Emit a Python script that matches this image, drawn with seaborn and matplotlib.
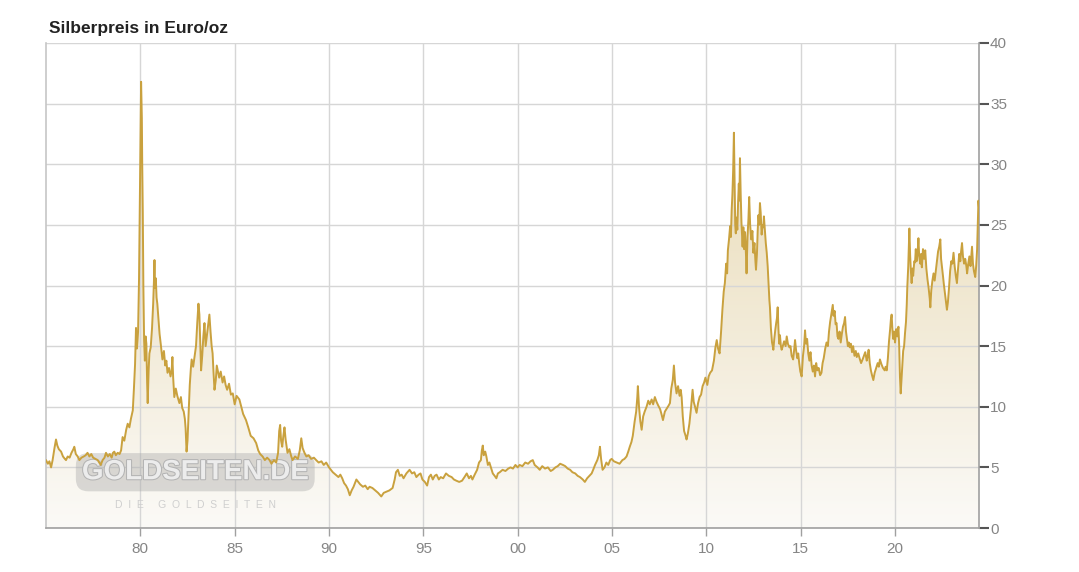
import numpy as np
import pandas as pd
import matplotlib
matplotlib.use("Agg")
import matplotlib.pyplot as plt
import matplotlib.patheffects as pe
import seaborn as sns
from matplotlib.colors import LinearSegmentedColormap
from matplotlib.patches import PathPatch

# Silberpreis in Euro/oz (Jahr als Dezimalzahl)
years = [
    1975.00, 1975.10, 1975.18, 1975.27, 1975.35, 1975.45, 1975.53, 1975.60, 1975.68, 1975.80,
    1975.90, 1976.00, 1976.06, 1976.15, 1976.25, 1976.35, 1976.45, 1976.50, 1976.58, 1976.68,
    1976.77, 1976.88, 1977.00, 1977.10, 1977.20, 1977.30, 1977.40, 1977.50, 1977.62, 1977.74,
    1977.82, 1977.90, 1978.00, 1978.10, 1978.18, 1978.28, 1978.38, 1978.48, 1978.55, 1978.62,
    1978.70, 1978.80, 1978.90, 1978.98, 1979.06, 1979.15, 1979.25, 1979.33, 1979.42, 1979.50,
    1979.60, 1979.66, 1979.72, 1979.77, 1979.82, 1979.88, 1979.93, 1979.98, 1980.02, 1980.04,
    1980.06, 1980.08, 1980.10, 1980.13, 1980.16, 1980.20, 1980.24, 1980.28, 1980.32, 1980.36,
    1980.39, 1980.44, 1980.48, 1980.55, 1980.62, 1980.68, 1980.72, 1980.75, 1980.78, 1980.82,
    1980.86, 1980.90, 1980.96, 1981.02, 1981.08, 1981.17, 1981.25, 1981.32, 1981.38, 1981.44,
    1981.52, 1981.60, 1981.66, 1981.70, 1981.74, 1981.80, 1981.88, 1981.96, 1982.07, 1982.15,
    1982.22, 1982.30, 1982.36, 1982.40, 1982.45, 1982.50, 1982.56, 1982.62, 1982.68, 1982.72,
    1982.80, 1982.87, 1982.95, 1983.02, 1983.08, 1983.13, 1983.18, 1983.22, 1983.28, 1983.34,
    1983.40, 1983.46, 1983.52, 1983.58, 1983.62, 1983.66, 1983.72, 1983.78, 1983.83, 1983.88,
    1983.93, 1984.00, 1984.05, 1984.10, 1984.18, 1984.26, 1984.36, 1984.44, 1984.52, 1984.60,
    1984.70, 1984.80, 1984.90, 1985.00, 1985.10, 1985.25, 1985.35, 1985.45, 1985.60, 1985.72,
    1985.85, 1986.00, 1986.14, 1986.25, 1986.35, 1986.48, 1986.60, 1986.72, 1986.85, 1986.95,
    1987.08, 1987.20, 1987.30, 1987.36, 1987.41, 1987.46, 1987.52, 1987.58, 1987.64, 1987.70,
    1987.80, 1987.90, 1988.00, 1988.07, 1988.20, 1988.35, 1988.45, 1988.53, 1988.60, 1988.70,
    1988.80, 1988.92, 1989.05, 1989.20, 1989.32, 1989.45, 1989.60, 1989.72, 1989.85, 1990.00,
    1990.10, 1990.20, 1990.35, 1990.50, 1990.60, 1990.70, 1990.80, 1990.90, 1991.00, 1991.10,
    1991.20, 1991.30, 1991.45, 1991.55, 1991.65, 1991.80, 1991.92, 1992.05, 1992.15, 1992.30,
    1992.45, 1992.60, 1992.77, 1992.90, 1993.05, 1993.20, 1993.37, 1993.48, 1993.55, 1993.65,
    1993.75, 1993.85, 1993.95, 1994.10, 1994.27, 1994.40, 1994.52, 1994.63, 1994.75, 1994.85,
    1994.95, 1995.08, 1995.20, 1995.30, 1995.40, 1995.50, 1995.60, 1995.70, 1995.82, 1995.92,
    1996.05, 1996.20, 1996.35, 1996.50, 1996.62, 1996.75, 1996.90, 1997.05, 1997.18, 1997.30,
    1997.42, 1997.52, 1997.60, 1997.72, 1997.85, 1997.95, 1998.05, 1998.10, 1998.15, 1998.20,
    1998.28, 1998.34, 1998.42, 1998.50, 1998.60, 1998.68, 1998.78, 1998.87, 1998.95, 1999.05,
    1999.20, 1999.35, 1999.50, 1999.62, 1999.75, 1999.88, 2000.00, 2000.10, 2000.25, 2000.40,
    2000.55, 2000.68, 2000.80, 2000.90, 2001.05, 2001.17, 2001.30, 2001.45, 2001.60, 2001.75,
    2001.86, 2002.00, 2002.12, 2002.25, 2002.40, 2002.52, 2002.65, 2002.78, 2002.90, 2003.05,
    2003.18, 2003.30, 2003.45, 2003.56, 2003.68, 2003.80, 2003.92, 2004.00, 2004.10, 2004.22,
    2004.30, 2004.36, 2004.42, 2004.50, 2004.60, 2004.70, 2004.80, 2004.90, 2004.98, 2005.10,
    2005.25, 2005.40, 2005.55, 2005.66, 2005.77, 2005.86, 2005.94, 2006.03, 2006.10, 2006.20,
    2006.28, 2006.34, 2006.37, 2006.43, 2006.50, 2006.57, 2006.65, 2006.73, 2006.83, 2006.92,
    2007.00, 2007.10, 2007.18, 2007.27, 2007.36, 2007.45, 2007.55, 2007.62, 2007.70, 2007.80,
    2007.92, 2008.00, 2008.07, 2008.14, 2008.22, 2008.28, 2008.34, 2008.42, 2008.50, 2008.58,
    2008.64, 2008.69, 2008.75, 2008.82, 2008.90, 2008.95, 2009.02, 2009.10, 2009.18, 2009.27,
    2009.33, 2009.40, 2009.48, 2009.56, 2009.64, 2009.72, 2009.80, 2009.88, 2009.95, 2010.05,
    2010.12, 2010.20, 2010.30, 2010.40, 2010.48, 2010.55, 2010.62, 2010.70, 2010.78, 2010.85,
    2010.92, 2010.98, 2011.05, 2011.10, 2011.14, 2011.20, 2011.26, 2011.30, 2011.34, 2011.38,
    2011.42, 2011.46, 2011.50, 2011.53, 2011.56, 2011.60, 2011.64, 2011.68, 2011.72, 2011.75,
    2011.78, 2011.82, 2011.86, 2011.90, 2011.92, 2011.96, 2012.00, 2012.05, 2012.10, 2012.13,
    2012.18, 2012.23, 2012.27, 2012.32, 2012.38, 2012.44, 2012.49, 2012.55, 2012.60, 2012.63,
    2012.68, 2012.72, 2012.76, 2012.80, 2012.84, 2012.88, 2012.93, 2012.98, 2013.02, 2013.05,
    2013.10, 2013.15, 2013.20, 2013.25, 2013.30, 2013.34, 2013.37, 2013.42, 2013.48, 2013.52,
    2013.55, 2013.60, 2013.65, 2013.70, 2013.74, 2013.78, 2013.82, 2013.86, 2013.90, 2013.95,
    2013.99, 2014.05, 2014.12, 2014.20, 2014.26, 2014.32, 2014.40, 2014.46, 2014.52, 2014.60,
    2014.66, 2014.70, 2014.76, 2014.82, 2014.87, 2014.92, 2014.98, 2015.05, 2015.12, 2015.18,
    2015.23, 2015.28, 2015.34, 2015.40, 2015.46, 2015.52, 2015.58, 2015.64, 2015.70, 2015.76,
    2015.82, 2015.88, 2015.95, 2016.03, 2016.10, 2016.16, 2016.22, 2016.30, 2016.37, 2016.44,
    2016.50, 2016.56, 2016.62, 2016.66, 2016.70, 2016.74, 2016.80, 2016.85, 2016.90, 2016.95,
    2017.00, 2017.06, 2017.12, 2017.18, 2017.24, 2017.30, 2017.35, 2017.40, 2017.45, 2017.50,
    2017.55, 2017.60, 2017.66, 2017.72, 2017.78, 2017.85, 2017.92, 2017.97, 2018.05, 2018.12,
    2018.20, 2018.28, 2018.35, 2018.42, 2018.50, 2018.55, 2018.60, 2018.66, 2018.72, 2018.78,
    2018.85, 2018.92, 2019.00, 2019.08, 2019.14, 2019.20, 2019.28, 2019.36, 2019.45, 2019.50,
    2019.56, 2019.62, 2019.68, 2019.74, 2019.78, 2019.82, 2019.86, 2019.90, 2019.95, 2020.00,
    2020.06, 2020.12, 2020.18, 2020.22, 2020.26, 2020.30, 2020.34, 2020.38, 2020.43, 2020.48,
    2020.53, 2020.58, 2020.62, 2020.65, 2020.70, 2020.74, 2020.76, 2020.80, 2020.84, 2020.88,
    2020.92, 2020.96, 2021.02, 2021.06, 2021.10, 2021.14, 2021.20, 2021.24, 2021.28, 2021.34,
    2021.38, 2021.42, 2021.48, 2021.54, 2021.60, 2021.66, 2021.72, 2021.78, 2021.84, 2021.87,
    2021.92, 2021.98, 2022.04, 2022.10, 2022.16, 2022.22, 2022.28, 2022.34, 2022.40, 2022.44,
    2022.50, 2022.54, 2022.58, 2022.64, 2022.70, 2022.75, 2022.80, 2022.86, 2022.92, 2022.98,
    2023.04, 2023.10, 2023.16, 2023.22, 2023.28, 2023.34, 2023.40, 2023.46, 2023.50, 2023.55,
    2023.60, 2023.66, 2023.72, 2023.78, 2023.82, 2023.88, 2023.94, 2024.00, 2024.04, 2024.08,
    2024.13, 2024.18, 2024.25, 2024.30, 2024.35, 2024.39, 2024.42, 2024.45,
]
price = [
    5.6, 5.3, 5.5, 5.0, 5.6, 6.6, 7.3, 6.8, 6.5, 6.3,
    5.9, 5.7, 5.6, 5.9, 5.8, 6.2, 6.5, 6.7, 6.1, 5.9,
    5.6, 5.8, 5.9, 6.0, 6.2, 5.9, 6.1, 5.8, 5.7, 5.6,
    5.4, 5.2, 5.6, 5.8, 6.2, 5.9, 6.1, 5.8, 6.2, 6.3,
    6.0, 6.2, 6.1, 6.4, 7.5, 7.2, 8.1, 8.6, 8.3, 9.0,
    9.7, 11.5, 13.5, 16.5, 14.8, 16.2, 20.5, 28.0, 34.5, 36.8,
    35.2, 33.8, 30.0, 26.0, 20.0, 15.5, 13.8, 15.8, 15.2, 12.0,
    10.3, 13.0, 14.4, 14.9, 16.5, 18.5, 20.3, 22.1, 19.8, 20.6,
    19.0, 18.5, 17.2, 16.0, 15.2, 13.9, 14.6, 13.4, 13.8, 12.8,
    13.2, 12.5, 13.0, 14.1, 12.4, 10.8, 11.5, 10.9, 10.3, 10.8,
    9.9, 9.6, 9.0, 8.2, 6.3, 7.2, 9.5, 11.8, 13.2, 13.9,
    13.3, 14.1, 15.0, 17.0, 18.5, 17.6, 15.0, 13.0, 14.2, 15.8,
    16.9, 15.0, 15.8, 16.6, 17.2, 17.6, 16.2, 15.0, 14.4, 12.8,
    11.4, 12.2, 13.4, 13.0, 12.4, 12.9, 12.0, 12.5, 11.8, 11.4,
    11.9, 11.0, 11.1, 10.2, 10.9, 10.6, 10.0, 9.4, 8.9, 8.3,
    7.6, 7.4, 7.0, 6.4, 6.1, 5.9, 5.6, 5.8, 5.6, 5.3,
    5.6, 5.4, 6.2, 8.0, 8.5, 7.2, 6.7, 7.6, 8.3, 7.3,
    6.2, 6.5, 5.9, 5.6, 5.9, 5.7, 6.4, 7.4, 6.6, 6.2,
    5.9, 6.0, 5.7, 5.8, 5.6, 5.4, 5.5, 5.2, 5.4, 5.0,
    4.8, 4.6, 4.4, 4.2, 4.4, 4.1, 3.7, 3.5, 3.2, 2.7,
    3.1, 3.4, 4.0, 3.8, 3.6, 3.4, 3.5, 3.2, 3.4, 3.3,
    3.1, 2.9, 2.6, 2.9, 3.0, 3.1, 3.3, 4.0, 4.6, 4.8,
    4.3, 4.4, 4.1, 4.5, 4.8, 4.5, 4.6, 4.2, 4.4, 4.5,
    4.0, 3.8, 3.5, 4.2, 4.4, 4.0, 4.3, 4.4, 4.0, 4.2,
    4.1, 4.5, 4.3, 4.2, 4.0, 3.9, 3.8, 3.9, 4.2, 4.5,
    4.1, 4.3, 4.0, 4.4, 4.8, 5.4, 5.6, 6.4, 6.8, 6.0,
    6.3, 5.9, 5.2, 5.4, 4.9, 4.5, 4.3, 4.1, 4.5, 4.6,
    4.8, 4.7, 4.9, 5.0, 4.9, 5.2, 5.0, 5.2, 5.1, 5.4,
    5.3, 5.5, 5.6, 5.2, 5.0, 4.8, 5.1, 4.9, 5.0, 4.7,
    4.8, 5.0, 5.1, 5.3, 5.2, 5.1, 4.9, 4.8, 4.6, 4.5,
    4.3, 4.2, 4.0, 3.8, 4.1, 4.3, 4.5, 4.8, 5.2, 5.6,
    6.0, 6.7, 5.7, 4.8, 5.0, 5.4, 5.2, 5.6, 5.7, 5.5,
    5.4, 5.3, 5.6, 5.7, 5.9, 6.3, 6.7, 7.1, 7.6, 8.8,
    9.6, 10.8, 11.7, 10.0, 8.8, 8.1, 9.2, 9.6, 10.0, 10.5,
    10.2, 10.6, 10.2, 10.8, 10.4, 10.1, 9.8, 9.4, 8.9, 9.6,
    9.9, 10.1, 10.3, 11.5, 12.2, 13.4, 12.0, 11.1, 11.7, 10.9,
    11.4, 10.8, 9.2, 8.0, 7.6, 7.3, 7.8, 8.6, 9.8, 11.4,
    10.4, 10.0, 9.5, 10.3, 10.8, 11.0, 11.7, 12.0, 12.4, 11.8,
    12.5, 12.8, 13.0, 13.8, 14.9, 15.5, 14.8, 14.4, 16.2, 18.0,
    19.5, 20.2, 21.8, 21.0, 22.9, 23.8, 24.9, 24.0, 26.2, 27.5,
    29.5, 32.6, 28.0, 25.0, 24.3, 25.6, 24.6, 26.8, 28.4, 27.0,
    30.5, 27.5, 25.2, 23.8, 23.2, 24.8, 23.0, 24.4, 22.5, 21.0,
    24.0, 25.5, 27.3, 25.0, 23.8, 24.5, 22.7, 23.5, 22.0, 21.3,
    22.6, 24.5, 25.8, 25.0, 26.8, 26.0, 24.2, 25.0, 24.8, 25.7,
    24.6, 23.5, 22.7, 21.6, 20.0, 18.8, 18.2, 16.5, 15.3, 15.0,
    14.7, 15.6, 16.3, 16.9, 17.3, 18.2, 16.4, 15.2, 15.9, 15.0,
    14.7, 15.0, 15.4, 15.0, 15.8, 15.2, 14.9, 15.0, 14.2, 13.9,
    14.8, 15.5, 14.6, 14.0, 14.4, 13.6, 12.9, 12.5, 14.2, 15.0,
    16.3, 15.2, 15.6, 14.4, 13.8, 14.5, 13.4, 12.9, 13.4, 12.5,
    13.6, 13.0, 13.2, 12.6, 12.8, 13.6, 14.0, 14.8, 15.3, 15.0,
    16.2, 17.0, 17.6, 18.0, 18.4, 17.5, 17.9, 16.8, 16.9, 15.8,
    15.6, 16.2, 15.3, 16.0, 16.6, 16.9, 17.4, 16.2, 15.6, 15.0,
    15.3, 14.9, 15.2, 14.5, 15.0, 14.2, 14.6, 14.1, 14.4, 14.0,
    13.6, 13.9, 14.2, 14.5, 13.8, 14.2, 14.7, 13.6, 13.0, 12.6,
    12.2, 12.8, 13.2, 13.6, 13.3, 13.9, 13.5, 13.2, 13.0, 13.3,
    13.0, 14.0, 15.4, 16.4, 17.2, 17.6, 16.4, 15.6, 16.2, 15.3,
    16.4, 15.8, 16.6, 15.0, 12.5, 11.1, 12.2, 13.4, 14.6, 15.0,
    16.1, 17.0, 18.4, 19.9, 21.6, 23.5, 24.7, 22.5, 21.2, 20.2,
    21.4, 20.8, 22.0, 21.9, 23.0, 22.0, 22.8, 23.9, 22.4, 21.8,
    22.6, 21.5, 23.0, 22.2, 22.9, 21.4, 20.5, 19.8, 18.9, 18.2,
    19.6, 20.4, 21.0, 20.4, 21.2, 22.0, 22.8, 23.2, 23.8, 22.2,
    21.4, 20.8, 20.2, 19.4, 18.6, 18.0, 18.6, 19.8, 21.2, 22.0,
    21.8, 22.7, 21.6, 20.8, 20.2, 21.4, 22.6, 22.0, 22.8, 23.5,
    22.4, 21.8, 22.2, 21.6, 21.0, 21.8, 22.4, 21.6, 22.4, 23.2,
    21.8, 21.2, 20.7, 21.6, 23.0, 25.4, 27.0, 26.4,
]

x_ticks = [1980, 1985, 1990, 1995, 2000, 2005, 2010, 2015, 2020]
x_tick_labels = ["80", "85", "90", "95", "00", "05", "10", "15", "20"]
y_ticks = [0, 5, 10, 15, 20, 25, 30, 35, 40]

LINE_COLOR = "#c9a13e"
W, H = 1079, 572


def main():
    assert len(years) == len(price), (len(years), len(price))
    df = pd.DataFrame({"Jahr": years, "Preis": price})

    sns.set_theme(style="white")
    plt.rcParams["font.family"] = ["Liberation Sans", "DejaVu Sans"]

    fig = plt.figure(figsize=(W / 100, H / 100), dpi=100)
    ax = fig.add_axes([46 / W, 44 / H, 933 / W, 485 / H])

    x0, x1 = years[0], years[-1]

    # gradient fill below the curve
    area = ax.fill_between(df["Jahr"], df["Preis"], 0, facecolor="none", edgecolor="none")
    clip = PathPatch(area.get_paths()[0], transform=ax.transData,
                     facecolor="none", edgecolor="none")
    ax.add_patch(clip)
    cmap = LinearSegmentedColormap.from_list("gold_fade", ["#fbfaf7", "#e6d5aa"])
    grad = np.linspace(0, 1, 256).reshape(-1, 1)
    img = ax.imshow(grad, extent=[x0, x1, 0, 40], origin="lower",
                    aspect="auto", cmap=cmap, zorder=0)
    img.set_clip_path(clip)

    # watermark
    wm = ax.text(0.16, 0.115, "GOLDSEITEN.DE", transform=ax.transAxes,
                 ha="center", va="center", fontsize=20, fontweight="bold",
                 color="#ececec", zorder=1,
                 bbox=dict(boxstyle="round,pad=0.22,rounding_size=0.45",
                           facecolor="#a8a8a8", edgecolor="none", alpha=0.4))
    wm.set_path_effects([pe.withStroke(linewidth=1.5, foreground="#b4b4b4")])
    ax.text(0.16, 0.048, "D  I  E     G  O  L  D  S  E  I  T  E  N",
            transform=ax.transAxes, ha="center", va="center",
            fontsize=7.5, color="#cfcfcf", zorder=1)

    sns.lineplot(data=df, x="Jahr", y="Preis", color=LINE_COLOR, linewidth=1.4,
                 sort=False, estimator=None, ax=ax, zorder=3)

    ax.set_xlim(x0, x1)
    ax.set_ylim(0, 40)
    ax.set_xticks(x_ticks)
    ax.set_xticklabels(x_tick_labels)
    ax.set_yticks(y_ticks)
    ax.set_xlabel("")
    ax.set_ylabel("")

    ax.set_axisbelow(True)
    ax.grid(True, color="#d6d6d6", linewidth=1.0)

    ax.yaxis.tick_right()
    ax.tick_params(axis="y", right=True, left=False, length=7, width=1.5,
                   color="#555555", labelcolor="#858585", labelsize=11, pad=1)
    ax.tick_params(axis="x", bottom=True, length=6, width=1.0,
                   color="#a0a0a0", labelcolor="#858585", labelsize=11, pad=4)

    ax.spines["top"].set_visible(False)
    ax.spines["left"].set_color("#c6c6c6")
    ax.spines["right"].set_color("#a0a0a0")
    ax.spines["bottom"].set_color("#a0a0a0")
    for s in ("left", "right", "bottom"):
        ax.spines[s].set_linewidth(1.2)

    fig.text(49 / W, 1 - 28 / H, "Silberpreis in Euro/oz", ha="left", va="center",
             fontsize=12.5, fontweight="bold", color="#222222")

    fig.savefig("out.png", dpi=100)


if __name__ == "__main__":
    main()
